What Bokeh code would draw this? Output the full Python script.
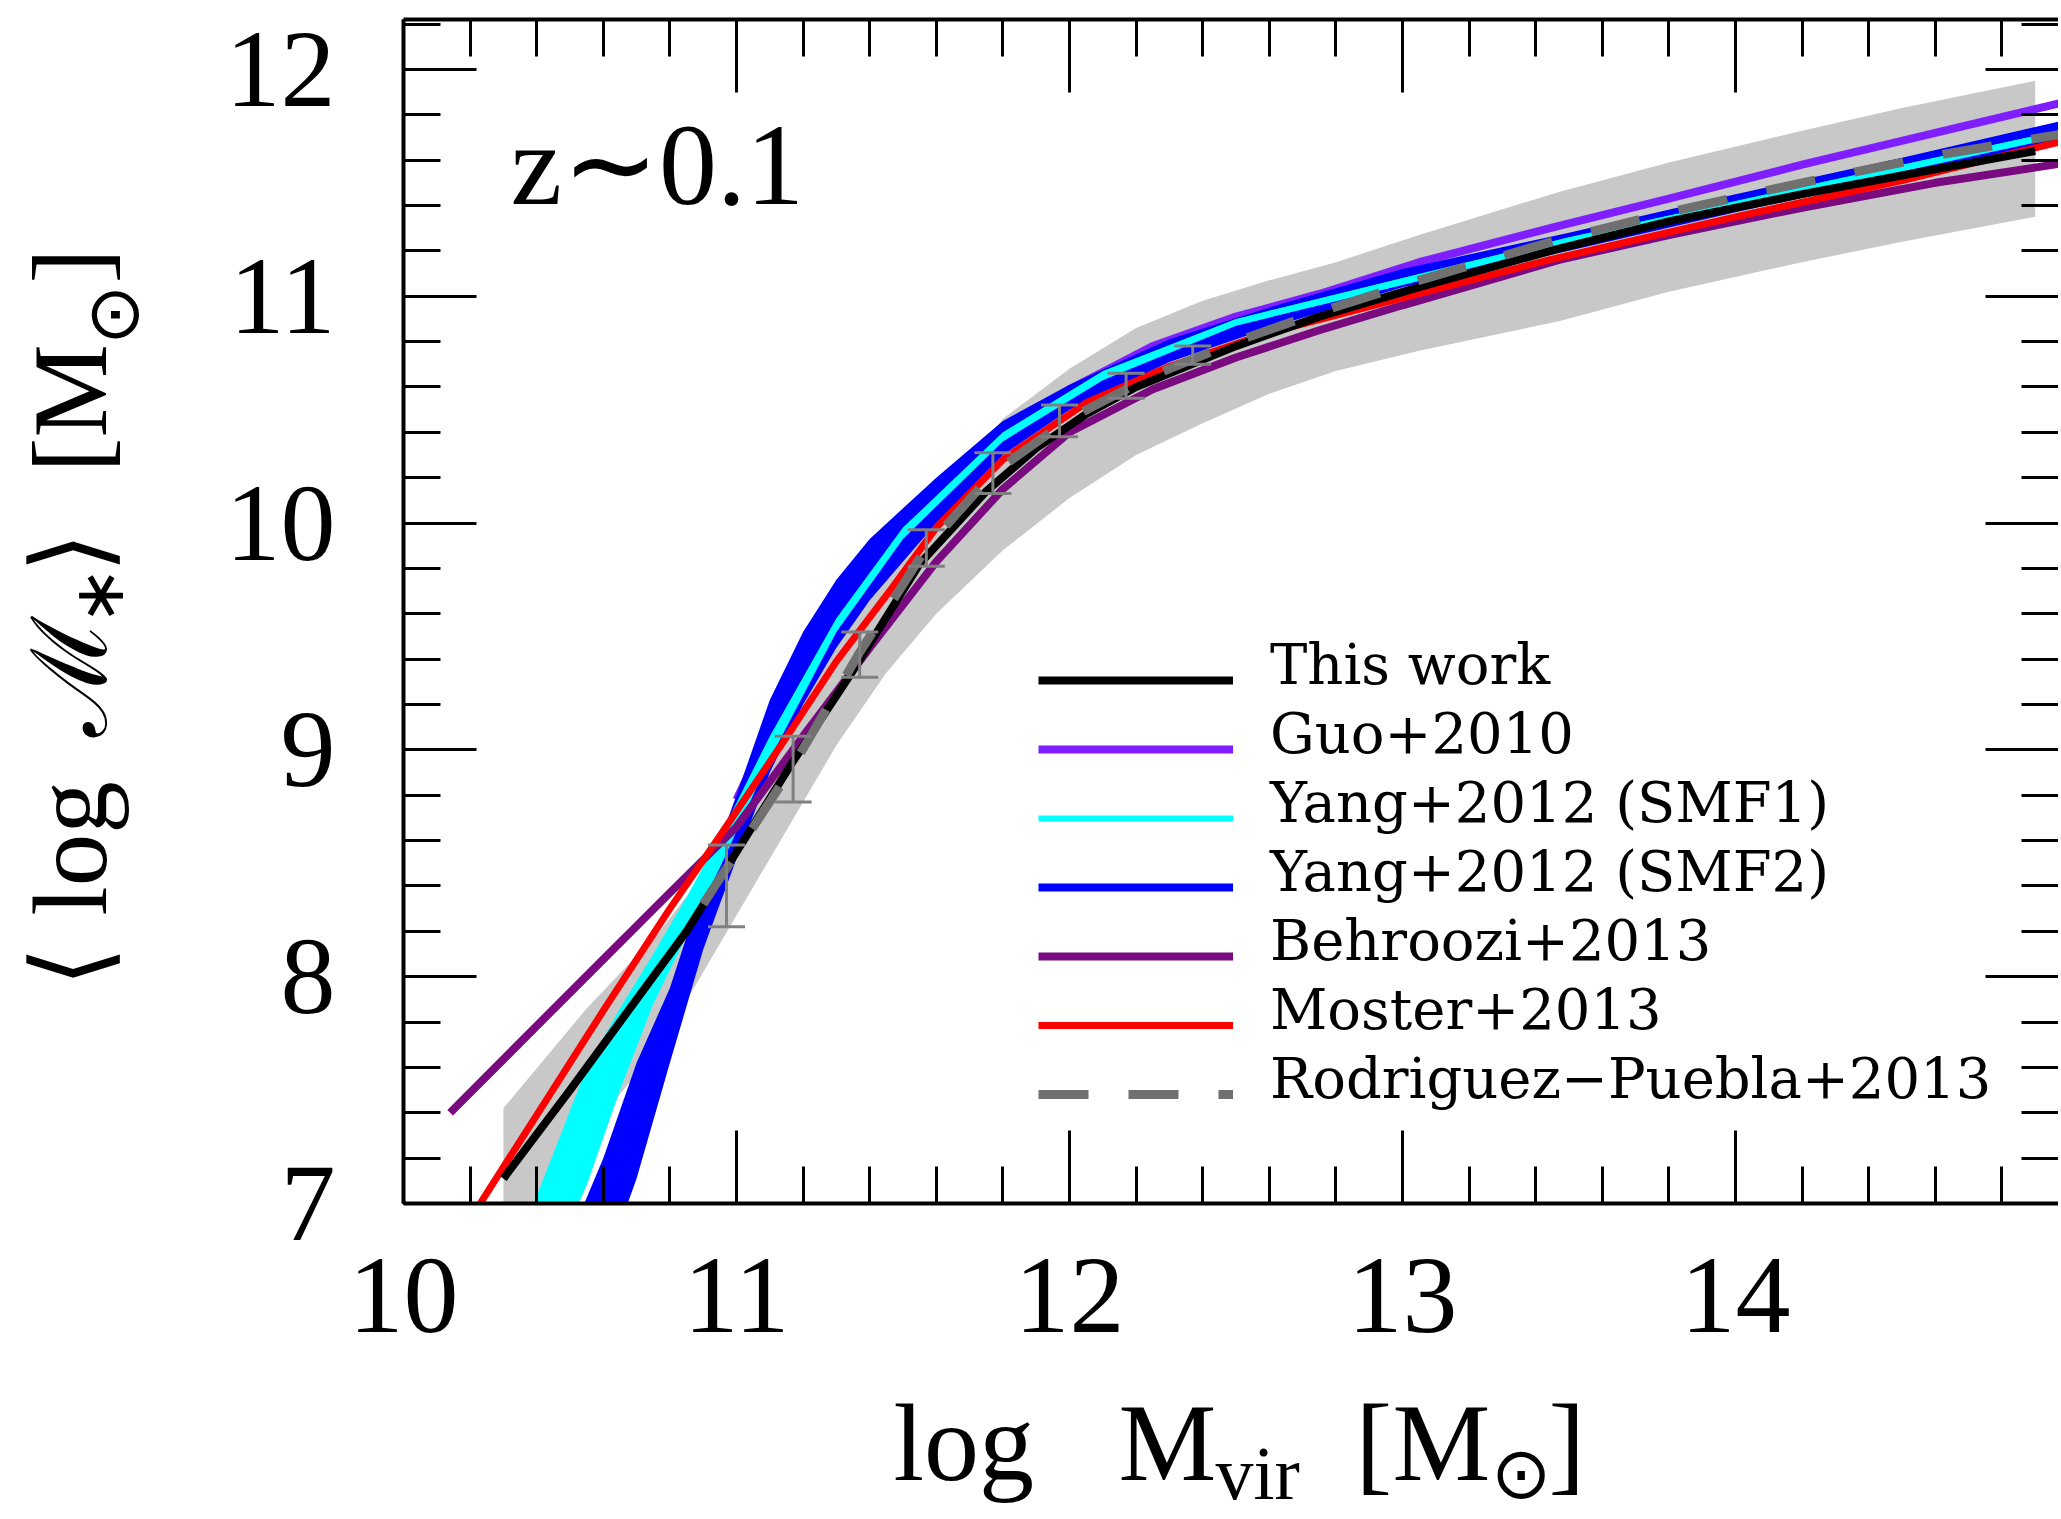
from bokeh.plotting import figure
from bokeh.models import (Range1d, LinearAxis, SingleIntervalTicker, Label, Legend,
                          LegendItem, Whisker, ColumnDataSource, TeeHead, CustomJSTickFormatter)
from bokeh.layouts import row, column
from bokeh.core.properties import value
from bokeh.embed import file_html
from bokeh.resources import INLINE

# ---------------- data ----------------
# This work: scatter band and mean relation
X_BAND = [10.30, 10.55, 10.77, 10.90, 11.10, 11.30, 11.45, 11.60, 11.80, 12.00, 12.20, 12.40, 12.60, 12.80, 13.05, 13.47, 13.80, 14.20, 14.50, 14.90]
BAND_HI = [7.42, 7.86, 8.20, 8.45, 8.95, 9.50, 9.80, 10.08, 10.46, 10.68, 10.86, 10.98, 11.07, 11.15, 11.27, 11.46, 11.59, 11.73, 11.83, 11.95]
BAND_LO = [6.80, 7.30, 7.70, 8.02, 8.52, 9.02, 9.34, 9.60, 9.88, 10.11, 10.30, 10.44, 10.57, 10.67, 10.76, 10.89, 11.02, 11.15, 11.24, 11.35]

X_THIS = [10.30, 10.50, 10.70, 10.85, 11.00, 11.17, 11.35, 11.55, 11.75, 11.90, 12.05, 12.20, 12.50, 12.75, 13.05, 13.47, 13.80, 14.20, 14.60, 14.90]
Y_THIS = [7.11, 7.50, 7.90, 8.20, 8.55, 8.95, 9.35, 9.82, 10.14, 10.33, 10.48, 10.60, 10.78, 10.91, 11.04, 11.21, 11.33, 11.45, 11.56, 11.64]

# Guo+2010
X_GUO = [11.00, 11.20, 11.40, 11.60, 11.80, 12.00, 12.25, 12.50, 12.75, 13.05, 13.47, 13.80, 14.20, 14.60, 15.00]
Y_GUO = [8.78, 9.40, 9.85, 10.15, 10.40, 10.59, 10.78, 10.91, 11.01, 11.15, 11.31, 11.43, 11.58, 11.72, 11.86]

# Yang+2012 (SMF1) band
X_SMF1 = [10.35, 10.45, 10.55, 10.65, 10.75, 10.85, 10.95, 11.10, 11.30, 11.50, 11.80, 12.10, 12.50, 13.00, 13.50, 14.00, 14.50, 15.00]
SMF1_HI = [6.85, 7.22, 7.60, 7.86, 8.10, 8.35, 8.62, 9.06, 9.58, 9.98, 10.40, 10.67, 10.90, 11.08, 11.26, 11.42, 11.58, 11.74]
SMF1_LO = [6.40, 6.75, 7.08, 7.50, 7.88, 8.18, 8.48, 8.96, 9.52, 9.93, 10.36, 10.63, 10.87, 11.05, 11.23, 11.39, 11.55, 11.71]

# Yang+2012 (SMF2) band
X_SMF2 = [10.50, 10.60, 10.70, 10.80, 10.90, 11.00, 11.10, 11.20, 11.30, 11.40, 11.60, 11.80, 12.00, 12.30, 12.60, 13.00, 13.50, 14.00, 14.50, 15.00]
SMF2_HI = [6.85, 7.20, 7.62, 7.95, 8.40, 8.80, 9.22, 9.52, 9.75, 9.93, 10.20, 10.45, 10.61, 10.81, 10.95, 11.12, 11.28, 11.45, 11.61, 11.78]
SMF2_LO = [6.30, 6.70, 7.11, 7.62, 8.12, 8.52, 8.90, 9.20, 9.45, 9.66, 10.00, 10.30, 10.50, 10.71, 10.86, 11.04, 11.20, 11.37, 11.53, 11.70]

# Behroozi+2013
X_BEH = [10.14, 10.50, 10.80, 11.00, 11.20, 11.40, 11.60, 11.80, 12.00, 12.25, 12.50, 12.75, 13.00, 13.47, 13.80, 14.20, 14.60, 15.00]
Y_BEH = [7.40, 7.93, 8.37, 8.66, 9.06, 9.45, 9.83, 10.15, 10.40, 10.59, 10.73, 10.85, 10.96, 11.16, 11.27, 11.39, 11.50, 11.59]

# Moster+2013
X_MOS = [10.20, 10.40, 10.60, 10.80, 10.95, 11.17, 11.30, 11.47, 11.60, 11.80, 12.05, 12.30, 12.60, 12.94, 13.44, 14.00, 14.50, 15.00]
Y_MOS = [6.93, 7.39, 7.85, 8.30, 8.62, 9.10, 9.39, 9.72, 9.98, 10.28, 10.53, 10.69, 10.84, 10.97, 11.16, 11.35, 11.51, 11.69]

# Rodriguez-Puebla+2013
X_RP = [10.90, 11.17, 11.37, 11.57, 11.77, 12.00, 12.25, 12.50, 12.75, 13.05, 13.47, 13.80, 14.20, 14.60, 15.00]
Y_RP = [8.32, 8.93, 9.43, 9.89, 10.22, 10.46, 10.65, 10.80, 10.93, 11.07, 11.25, 11.37, 11.50, 11.62, 11.72]

# error bars
X_ERR = [10.97, 11.17, 11.37, 11.57, 11.77, 11.97, 12.17, 12.37]
ERR_LO = [8.22, 8.77, 9.32, 9.81, 10.13, 10.38, 10.55, 10.70]
ERR_HI = [8.58, 9.06, 9.52, 9.97, 10.31, 10.52, 10.66, 10.78]

LEGEND_LABELS = ["This work", "Guo+2010", "Yang+2012 (SMF1)", "Yang+2012 (SMF2)",
                 "Behroozi+2013", "Moster+2013", "Rodriguez\u2212Puebla+2013"]

SMF1_MID = [(a + b) / 2 for a, b in zip(SMF1_LO, SMF1_HI)]
SMF2_MID = [(a + b) / 2 for a, b in zip(SMF2_LO, SMF2_HI)]

SERIF = "Liberation Serif"

# page layout (pixels)
TOP_B, FRAME_H, BOT_B = 19, 1184, 167
MAIN_H = TOP_B + FRAME_H + BOT_B          # 1370
FRAME_TOP, FRAME_BOT = TOP_B, TOP_B + FRAME_H
XT_H = 1519 - MAIN_H                      # 149

# ---------------- main figure ----------------
p = figure(width=1868, height=MAIN_H, output_backend="svg", toolbar_location=None,
           x_range=Range1d(10, 14.97), y_range=Range1d(7, 12.22),
           min_border_left=213, min_border_right=0, min_border_top=TOP_B, min_border_bottom=BOT_B,
           x_axis_location=None, y_axis_location=None)
p.outline_line_color = None
p.grid.visible = False
p.background_fill_color = "white"
p.border_fill_color = "white"


def make_axis(labels):
    ax = LinearAxis(ticker=SingleIntervalTicker(interval=1, num_minor_ticks=5))
    ax.major_tick_in = 73
    ax.major_tick_out = 0
    ax.minor_tick_in = 37
    ax.minor_tick_out = 0
    ax.major_tick_line_width = 3
    ax.minor_tick_line_width = 3
    ax.major_tick_line_color = "black"
    ax.minor_tick_line_color = "black"
    ax.axis_line_width = 4
    ax.axis_line_color = "black"
    if labels:
        ax.major_label_text_font = SERIF
        ax.major_label_text_font_size = "110px"
        ax.major_label_text_color = "black"
    else:
        ax.formatter = CustomJSTickFormatter(code="return ''")
        ax.major_label_text_font_size = "1px"
        ax.major_label_standoff = 0
    return ax


bottom = make_axis(True)
bottom.major_label_standoff = 55
left = make_axis(True)
left.major_label_standoff = 68
top = make_axis(False)
right = make_axis(False)
right.axis_line_color = None
p.add_layout(bottom, "below")
p.add_layout(left, "left")
p.add_layout(top, "above")
p.add_layout(right, "right")

# ---------------- glyphs ----------------
p.varea(x=X_BAND, y1=BAND_LO, y2=BAND_HI, fill_color="#c8c8c8")
r_guo = p.line(X_GUO, Y_GUO, line_color="#7f1fff", line_width=8)
p.varea(x=X_SMF2, y1=SMF2_LO, y2=SMF2_HI, fill_color="#0000ff")
r_smf2 = p.line(X_SMF2, SMF2_MID, line_color="#0000ff", line_width=8)
p.varea(x=X_SMF1, y1=SMF1_LO, y2=SMF1_HI, fill_color="#00ffff")
r_smf1 = p.line(X_SMF1, SMF1_MID, line_color="#00ffff", line_width=6)
r_beh = p.line(X_BEH, Y_BEH, line_color="#7a0a80", line_width=8)
r_mos = p.line(X_MOS, Y_MOS, line_color="#ff0000", line_width=7)
r_this = p.line(X_THIS, Y_THIS, line_color="black", line_width=8)
r_rp = p.line(X_RP, Y_RP, line_color="#707070", line_width=9, line_dash="50 40")

err_src = ColumnDataSource(dict(x=X_ERR, lo=ERR_LO, hi=ERR_HI))
p.add_layout(Whisker(source=err_src, base="x", lower="lo", upper="hi", dimension="height",
                     level="annotation", line_color="#808080", line_width=3,
                     upper_head=TeeHead(size=37, line_color="#808080", line_width=3),
                     lower_head=TeeHead(size=37, line_color="#808080", line_width=3)))

LEG_RENDERERS = [r_this, r_guo, r_smf1, r_smf2, r_beh, r_mos, r_rp]
LEG_COMMON = dict(glyph_height=66, label_height=66, spacing=3, padding=10, margin=0,
                  label_text_font="DejaVu Serif", label_text_font_size="56px",
                  label_text_color="black", background_fill_alpha=0, border_line_alpha=0)

# legend sample lines
legend_lines = Legend(items=[LegendItem(label=" ", renderers=[r]) for r in LEG_RENDERERS],
                      location=(625, 66), glyph_width=195, label_standoff=0, label_width=0,
                      **LEG_COMMON)
# legend labels, sitting slightly above their sample lines as in the original
legend_text = Legend(items=[LegendItem(label=t, renderers=[r]) for t, r in zip(LEGEND_LABELS, LEG_RENDERERS)],
                     location=(625, 82), glyph_width=0, label_standoff=232,
                     **LEG_COMMON)
p.add_layout(legend_lines)
p.add_layout(legend_text)

p.add_layout(Label(x=107, y=1039, x_units="screen", y_units="screen", text="z\u223c0.1",
                   text_font=SERIF, text_font_size="116px", text_color="black",
                   text_align="left", text_baseline="middle"))

# ---------------- y-axis title panel (data y == page y) ----------------
yfig = figure(width=190, height=MAIN_H, output_backend="svg", toolbar_location=None,
              x_range=Range1d(0, 190), y_range=Range1d(FRAME_BOT, FRAME_TOP),
              min_border_left=0, min_border_right=0, min_border_top=TOP_B, min_border_bottom=BOT_B,
              x_axis_location=None, y_axis_location=None)
yfig.outline_line_color = None
yfig.grid.visible = False
A = 1.5707963


def ytext(txt, x, y, size):
    yfig.text(x=[x], y=[y], text=[txt], angle=A, text_font=value(SERIF),
              text_font_size=value(size), text_color="black",
              text_align="left", text_baseline="middle")


ytext("\u27e8", 70, 986, "105px")
ytext("log", 70, 915, "105px")
ytext("\u2133", 70, 736, "105px")
ytext("\u2217", 99, 624, "70px")
ytext("\u27e9", 70, 572, "105px")
ytext("[", 70, 472, "105px")
ytext("M", 70, 437, "105px")
ytext("\u2299", 113, 344, "72px")
ytext("]", 70, 283, "105px")

# ---------------- x-axis title panel (data y == 1519 - page y) ----------------
xfig = figure(width=2058, height=XT_H, output_backend="svg", toolbar_location=None,
              x_range=Range1d(0, 2058), y_range=Range1d(0, XT_H), min_border=0,
              x_axis_location=None, y_axis_location=None)
xfig.outline_line_color = None
xfig.grid.visible = False


def xtext(txt, x, y, size):
    xfig.text(x=[x], y=[y], text=[txt], text_font=value(SERIF),
              text_font_size=value(size), text_color="black",
              text_align="left", text_baseline="middle")


xtext("log", 893, 77, "110px")
xtext("M", 1118, 77, "110px")
xtext("vir", 1215, 47, "76px")
xtext("[", 1355, 77, "110px")
xtext("M", 1392, 77, "110px")
xtext("\u2299", 1490, 46, "72px")
xtext("]", 1548, 77, "110px")

layout = column(row(yfig, p), xfig)
open("out.html", "w").write(file_html(layout, INLINE))
